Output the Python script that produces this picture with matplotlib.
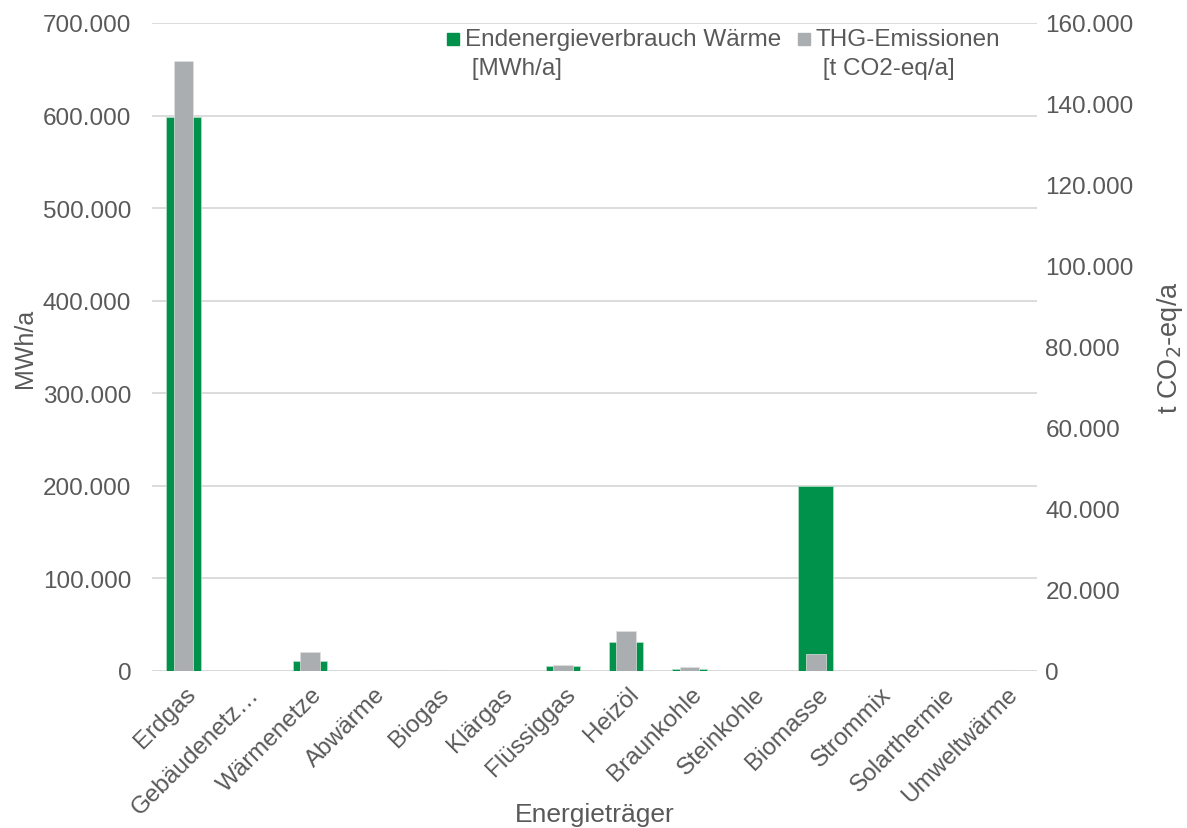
import matplotlib
matplotlib.use("Agg")
import matplotlib.pyplot as plt
from matplotlib.patches import Rectangle
from matplotlib.ticker import FuncFormatter, MultipleLocator
from matplotlib.transforms import ScaledTranslation
import numpy as np

plt.rcParams['font.family'] = ['Liberation Sans', 'DejaVu Sans']

categories = ["Erdgas", "Gebäudenetz…", "Wärmenetze", "Abwärme", "Biogas", "Klärgas",
              "Flüssiggas", "Heizöl", "Braunkohle", "Steinkohle", "Biomasse", "Strommix",
              "Solarthermie", "Umweltwärme"]
energy_mwh = [598500, 0, 11100, 0, 300, 0, 5400, 31300, 2200, 0, 200000, 100, 100, 300]
emissions_t = [150600, 0, 4700, 0, 200, 0, 1500, 9900, 1000, 0, 4200, 100, 100, 300]
series_names = ["Endenergieverbrauch Wärme\n [MWh/a]", "THG-Emissionen\n [t CO2-eq/a]"]

GREEN = "#00914A"
GRAY = "#ABAEB1"
TEXT = "#595959"
GRID = "#D9D9D9"

W, H = 1187, 829
fig = plt.figure(figsize=(W / 100, H / 100), dpi=100)
x0, x1, y0, y1 = 152, 1037, 672, 24
ax = fig.add_axes([x0 / W, 1 - y0 / H, (x1 - x0) / W, (y0 - y1) / H])
ax2 = ax.twinx()

x = np.arange(len(categories))
ax.bar(x, energy_mwh, width=0.55, color=GREEN, edgecolor="#B8E0C8", linewidth=0.5, zorder=2)
ax2.bar(x, emissions_t, width=0.31, color=GRAY, edgecolor="#E0E0E0", linewidth=0.5, zorder=3)

ax.set_xlim(-0.5, len(categories) - 0.5)
ax.set_ylim(0, 700000)
ax2.set_ylim(0, 160000)
ax.yaxis.set_major_locator(MultipleLocator(100000))
ax2.yaxis.set_major_locator(MultipleLocator(20000))

fmt = FuncFormatter(lambda v, p: f"{int(round(v)):,}".replace(",", "."))
ax.yaxis.set_major_formatter(fmt)
ax2.yaxis.set_major_formatter(fmt)

ax.grid(axis="y", color=GRID, linewidth=1.3, zorder=0)
ax.set_axisbelow(True)
for a in (ax, ax2):
    for s in a.spines.values():
        s.set_visible(False)
    a.tick_params(length=0, colors=TEXT, labelsize=17.5)
ax.axhline(0, color=GRID, linewidth=1.3, zorder=1)

ax.set_xticks(x)
ax.set_xticklabels(categories, rotation=45, ha="right", va="center",
                   rotation_mode="anchor", fontsize=17.5)
ax.tick_params(axis="x", pad=14)
shift = ScaledTranslation(9 / 100, 0, fig.dpi_scale_trans)
for lbl in ax.get_xticklabels():
    lbl.set_transform(lbl.get_transform() + shift)
ax.tick_params(axis="y", pad=15)
ax2.tick_params(axis="y", pad=6)

ax.set_ylabel("MWh/a", color=TEXT, fontsize=18, va="center")
ax.yaxis.set_label_coords((25 - x0) / (x1 - x0), 0.5)
ax2.set_ylabel("t CO$_2$-eq/a", color=TEXT, fontsize=19.5, va="center")
ax2.yaxis.set_label_coords((1170 - x0) / (x1 - x0), 0.5)
ax.set_xlabel("Energieträger", color=TEXT, fontsize=19, va="center")
ax.xaxis.set_label_coords(0.5, (y0 - 815) / (y0 - y1))

# legend drawn at the top of the plot area
for (lx, tx), name, col in zip([(447, 465), (798, 816)], series_names, [GREEN, GRAY]):
    fig.patches.append(Rectangle((lx / W, 1 - 46 / H), 12 / W, 12 / H,
                                 transform=fig.transFigure, color=col))
    fig.text(tx / W, 1 - 29 / H, name, ha="left", va="top", color=TEXT,
             fontsize=17.5, linespacing=1.4)

fig.savefig("out.png", dpi=100)
